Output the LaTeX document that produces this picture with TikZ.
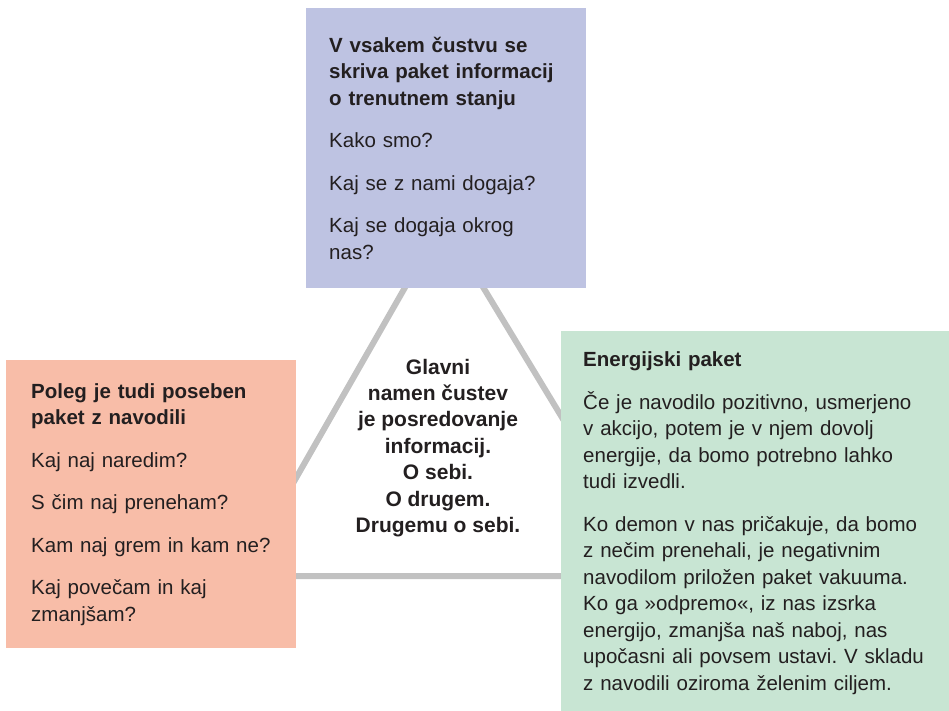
\documentclass[tikz,border=0pt]{standalone}
\usepackage{fontspec}
\setmainfont{Liberation Sans}
\frenchspacing
\usepackage{tikz}
\usetikzlibrary{positioning,calc}
\definecolor{cState}{HTML}{BEC3E2}
\definecolor{cGuide}{HTML}{F8BDA8}
\definecolor{cEnergy}{HTML}{C8E5D3}
\definecolor{cEdge}{HTML}{C1C1C1}
\definecolor{cText}{HTML}{231F20}
\tikzset{
  pack/.style={rectangle, anchor=north west, align=left, text=cText, inner ysep=0pt,
    font={\fontsize{20.5}{26.5}\selectfont}},
  core/.style={align=center, text=cText, font={\bfseries\fontsize{21}{26.4}\selectfont}},
  tri/.style={draw=cEdge, line width=6pt, line join=miter},
}

\begin{document}
\begin{tikzpicture}[x=1pt, y=-1pt]
  \useasboundingbox (0,0) rectangle (949,711);
  \coordinate (apex) at (443,221);
  \coordinate (baseL) at (240,576);
  \coordinate (baseR) at (658,576);
  \draw[tri] (apex) -- (baseL) -- (baseR) -- cycle;
  \node[core] (purpose) at (438,448) {Glavni\\ namen čustev\\ je posredovanje\\ informacij.\\ O sebi.\\ O drugem.\\ Drugemu o sebi.};
  \node[pack, fill=cState, inner xsep=23pt, text width=234pt, minimum height=280pt] (state) at (306,8)
    {\bfseries V vsakem čustvu se\\ skriva paket informacij\\ o trenutnem stanju\\[16pt]
     \mdseries Kako smo?\\[16pt] Kaj se z nami dogaja?\\[16pt] Kaj se dogaja okrog\\ nas?};
  \node[pack, fill=cGuide, inner xsep=25pt, text width=240pt, minimum height=288pt] (guide) at (6,360)
    {\bfseries Poleg je tudi poseben\\ paket z navodili\\[16pt]
     \mdseries Kaj naj naredim?\\[16pt] S čim naj preneham?\\[16pt] Kam naj grem in kam ne?\\[16pt]
     Kaj povečam in kaj\\ zmanjšam?};
  \node[pack, fill=cEnergy, inner xsep=22pt, text width=352pt, minimum height=384pt] (energy) at (561,331)
    {\bfseries Energijski paket\\[16pt]
     \mdseries Če je navodilo pozitivno, usmerjeno\\ v akcijo, potem je v njem dovolj\\
     energije, da bomo potrebno lahko\\ tudi izvedli.\\[16pt]
     Ko demon v nas pričakuje, da bomo\\ z nečim prenehali, je negativnim\\
     navodilom priložen paket vakuuma.\\ Ko ga »odpremo«, iz nas izsrka\\
     energijo, zmanjša naš naboj, nas\\ upočasni ali povsem ustavi. V skladu\\
     z navodili oziroma želenim ciljem.};
\end{tikzpicture}
\end{document}
